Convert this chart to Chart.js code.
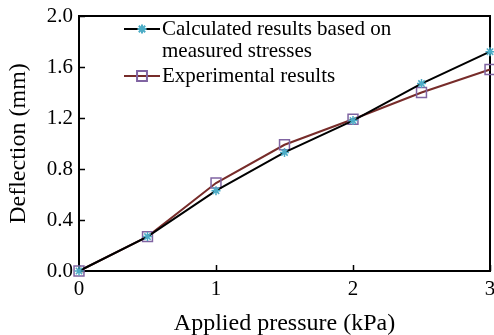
<!DOCTYPE html>
<html>
<head>
<meta charset="utf-8">
<script src="https://cdn.jsdelivr.net/npm/chart.js@4"></script>
<style>
  html, body { margin: 0; padding: 0; background: #fff; }
  #wrap { width: 494px; height: 335px; }
</style>
</head>
<body>
<div id="wrap"><canvas id="deflChart" width="494" height="335"></canvas></div>
<script>
const pressure = [0, 0.5, 1, 1.5, 2, 2.5, 3];
const calculated = [0, 0.27, 0.63, 0.93, 1.18, 1.47, 1.72];
const experimental = [0, 0.27, 0.69, 0.99, 1.19, 1.40, 1.58];
const yTicks = [0, 0.4, 0.8, 1.2, 1.6, 2.0];
const xTicks = [0, 1, 2, 3];
const legendNames = [['Calculated results based on', 'measured stresses'], ['Experimental results']];

const FONT = '"Liberation Serif", "Times New Roman", serif';

// frame around the plot + inward tick marks
const framePlugin = {
  id: 'frame',
  beforeDatasetsDraw(chart) {
    const { ctx, chartArea: a, scales } = chart;
    ctx.save();
    ctx.strokeStyle = '#000';
    ctx.lineWidth = 2;
    ctx.strokeRect(a.left, a.top, a.right - a.left, a.bottom - a.top);
    ctx.lineWidth = 1.5;
    ctx.beginPath();
    yTicks.forEach(v => {
      const y = Math.round(scales.y.getPixelForValue(v)) + 0.5;
      ctx.moveTo(a.left, y);
      ctx.lineTo(a.left + 6, y);
    });
    xTicks.forEach(v => {
      const x = Math.round(scales.x.getPixelForValue(v)) + 0.5;
      ctx.moveTo(x, a.bottom);
      ctx.lineTo(x, a.bottom - 6);
    });
    ctx.stroke();
    ctx.restore();
  }
};

// legend drawn inside the plot, first entry on two lines
const legendPlugin = {
  id: 'inLegend',
  afterDraw(chart) {
    const { ctx } = chart;
    const x0 = 124, x1 = 160, tx = 162;
    const rows = [29, 76];
    ctx.save();
    ctx.textBaseline = 'middle';
    chart.data.datasets.forEach((ds, i) => {
      const y = rows[i];
      ctx.strokeStyle = ds.borderColor;
      ctx.lineWidth = 2;
      ctx.beginPath();
      ctx.moveTo(x0, y);
      ctx.lineTo(x1, y);
      ctx.stroke();
      ctx.strokeStyle = ds.pointBorderColor;
      ctx.fillStyle = ds.pointBackgroundColor;
      Chart.helpers.drawPoint(ctx, {
        pointStyle: ds.pointStyle,
        radius: ds.pointRadius,
        borderWidth: ds.pointBorderWidth
      }, (x0 + x1) / 2, y);
      ctx.font = '21px ' + FONT;
      ctx.fillStyle = '#000';
      legendNames[i].forEach((line, k) => {
        ctx.fillText(line, tx, y + k * 22);
      });
    });
    ctx.restore();
  }
};

new Chart(document.getElementById('deflChart'), {
  type: 'line',
  data: {
    datasets: [
      {
        label: legendNames[0].join(' '),
        data: pressure.map((p, i) => ({ x: p, y: calculated[i] })),
        borderColor: '#000000',
        borderWidth: 2,
        pointStyle: 'star',
        pointRadius: 4.5,
        pointBorderWidth: 1.5,
        pointBorderColor: '#4bacc6',
        pointBackgroundColor: '#4bacc6',
        tension: 0,
        clip: false
      },
      {
        label: legendNames[1][0],
        data: pressure.map((p, i) => ({ x: p, y: experimental[i] })),
        borderColor: '#772c2a',
        borderWidth: 2,
        pointStyle: 'rect',
        pointRadius: 7,
        pointBorderWidth: 1.5,
        pointBorderColor: '#8064a2',
        pointBackgroundColor: 'rgba(0,0,0,0)',
        tension: 0,
        clip: false
      }
    ]
  },
  options: {
    responsive: false,
    animation: false,
    layout: { autoPadding: false, padding: { top: 16, right: 4, left: 0, bottom: 0 } },
    plugins: {
      legend: { display: false },
      tooltip: { enabled: false }
    },
    scales: {
      x: {
        type: 'linear',
        min: 0,
        max: 3,
        afterBuildTicks: s => { s.ticks = xTicks.map(v => ({ value: v })); },
        afterFit: s => { s.height = 64; s.paddingLeft = 0; s.paddingRight = 0; },
        grid: { display: false, drawTicks: false },
        border: { display: false },
        ticks: { color: '#000', font: { family: FONT, size: 21 }, padding: 6 },
        title: { display: true, text: 'Applied pressure (kPa)', color: '#000', font: { family: FONT, size: 24 }, padding: { top: 0, bottom: -3 } }
      },
      y: {
        min: 0,
        max: 2,
        afterBuildTicks: s => { s.ticks = yTicks.map(v => ({ value: v })); },
        afterFit: s => { s.width = 79; s.paddingTop = 0; s.paddingBottom = 0; },
        grid: { display: false, drawTicks: false },
        border: { display: false },
        ticks: { color: '#000', font: { family: FONT, size: 21 }, padding: 6, callback: v => v.toFixed(1) },
        title: { display: true, text: 'Deflection (mm)', color: '#000', font: { family: FONT, size: 24 }, padding: { bottom: 0 } }
      }
    }
  },
  plugins: [framePlugin, legendPlugin]
});
</script>
</body>
</html>
